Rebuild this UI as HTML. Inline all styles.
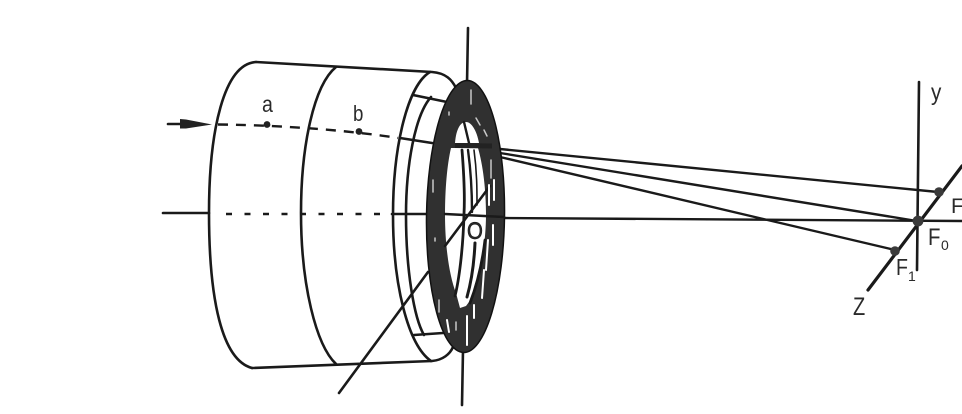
<!DOCTYPE html>
<html>
<head>
<meta charset="utf-8">
<style>
html,body{margin:0;padding:0;background:#fff;width:962px;height:414px;overflow:hidden}
svg{display:block}
text{font-family:"Liberation Sans",sans-serif;fill:#2a2a2a}
</style>
</head>
<body>
<svg width="962" height="414" viewBox="0 0 962 414" xmlns="http://www.w3.org/2000/svg">
<rect width="962" height="414" fill="#fff"/>
<g fill="none" stroke="#1a1a1a" stroke-width="2.6" stroke-linecap="round">
  <!-- cylinder outline -->
  <path d="M256 62 C224 64 209 130 209 213 C209 300 222 360 252 368"/>
  <path d="M256 62 L432 72 C446 73 452 80 456 88"/>
  <path d="M252 368 L432 361 C443 360 450 354 453 347"/>
  <path d="M336 67 C314 85 301 145 301 213 C301 285 316 345 336 364"/>
  <path d="M430 72 C408 85 393 145 393 215 C393 285 408 345 431 361"/>
  <path d="M431 97 C415 115 406 165 406 215 C406 270 414 318 424 335"/>
  <path d="M413 95 L447 102"/>
  <path d="M414 335 L443 333"/>
  <path d="M400 138 L432 143"/>
  <!-- axis -->
  <path d="M163 213 L209 213"/>
  <path d="M392 214 L430 214"/>
  <path d="M226 214 L392 214" stroke-width="2.4" stroke-dasharray="6 12.5" stroke-linecap="butt"/>
  <path d="M468 28 L467 84"/>
  <path d="M463 350 L462 405"/>
  <!-- diagonal -->
  <path d="M339 393 L428 272"/>
  <!-- incoming ray -->
  <path d="M168 124 L182 124"/>
  <path d="M218 124.5 C270 125 340 129 398 138" stroke-width="2.4" stroke-dasharray="10 8" stroke-linecap="butt"/>
</g>
<path d="M180 119 L186 119.5 L212 124.5 L186 128.5 L180 128.5 Z" fill="#222"/>
<circle cx="267" cy="124.5" r="3.4" fill="#222"/>
<circle cx="359" cy="131.5" r="3.4" fill="#222"/>

<!-- rays and focal system -->
<g fill="none" stroke="#1a1a1a" stroke-linecap="round">
  <path d="M500 149 L938 192" stroke-width="2.4"/>
  <path d="M500 153 L917 221" stroke-width="2.4"/>
  <path d="M500 157 L895 250" stroke-width="2.4"/>
  <path d="M504 218 L962 221" stroke-width="2.4"/>
  <path d="M919 82 L917 270" stroke-width="2.6"/>
  <path d="M868 290 L962 166" stroke-width="3.2"/>
</g>
<circle cx="939" cy="192" r="4.8" fill="#3a3a3a"/>
<circle cx="918" cy="221" r="5.4" fill="#3a3a3a"/>
<circle cx="895" cy="251" r="4.8" fill="#3a3a3a"/>

<!-- ring -->
<ellipse cx="465.5" cy="216.5" rx="39" ry="136" transform="rotate(0.8 465.5 216.5)" fill="#303030" stroke="#111" stroke-width="1.5"/>
<g fill="#fff">
  <path d="M455 143 C456 130 460 122 466 122 C472 122 477 132 479 143 Z"/>
  <path d="M451 148 C447 165 445 190 445 214 C445 245 449 275 456 293 L460 308 L466 306 L472 298 C480 275 486 245 486 214 C486 190 483 165 478 148 Z"/>
</g>
<g fill="none" stroke="#1a1a1a" stroke-linecap="round">
  <path d="M445 214 L504 217" stroke-width="2.6"/>
  <path d="M464 122 L469 143" stroke-width="2.4"/>
  <path d="M462 150 C464 175 465 195 464 214 C463 250 459 280 455 296" stroke-width="2.8"/>
  <path d="M468 150 C471 172 472 195 472 212" stroke-width="2.4"/>
  <path d="M474 150 C477 172 477 190 477 205" stroke-width="1.6"/>
  <path d="M475 243 C474 265 471 283 467 297" stroke-width="3"/>
  <path d="M445 246 L490 186" stroke-width="2.6"/>
  <path d="M485 240 C482 265 477 285 470 303" stroke-width="2.8"/>
</g>
<path d="M455 145.5 L492 146" stroke="#222" stroke-width="5" fill="none"/>

<!-- flecks on ring -->
<g fill="none" stroke="#c8c8c8" stroke-width="1.5" stroke-linecap="round">
  <path d="M471 90 L471 104"/><path d="M476 118 L480 125"/><path d="M484 130 L487 136"/>
  <path d="M491 160 L491 178"/><path d="M433 180 L433 192"/><path d="M449 112 L449 115"/><path d="M435 238 L435 241"/>
  <path d="M439 300 L439 312"/><path d="M456 322 L456 330"/>
</g>
<g fill="none" stroke="#fff" stroke-width="2" stroke-linecap="round">
  <path d="M489 185 L489 205"/><path d="M494 180 L494 200"/>
  <path d="M493 225 L493 245"/><path d="M488 240 L486 270"/><path d="M484 270 L482 298"/>
  <path d="M447 320 L449 332"/><path d="M467 316 L467 345"/><path d="M474 305 L474 318"/>
</g>

<!-- labels -->
<text transform="translate(262 112) scale(.85 1)" font-size="23">a</text>
<text transform="translate(353 121) scale(.85 1)" font-size="22">b</text>
<circle cx="475" cy="231" r="7" fill="#fff"/>
<text transform="translate(467 239) scale(.85 1)" font-size="24" stroke="#1a1a1a" stroke-width=".7">O</text>
<text transform="translate(931 100) scale(.9 1)" font-size="23">y</text>
<text transform="translate(951 213)" font-size="21">F</text>
<text transform="translate(928 245) scale(.85 1)" font-size="24">F</text>
<text transform="translate(941 250)" font-size="14">0</text>
<text transform="translate(896 275) scale(.85 1)" font-size="23">F</text>
<text transform="translate(908 281)" font-size="14">1</text>
<text transform="translate(853 315) scale(.8 1)" font-size="25">Z</text>
</svg>
</body>
</html>
